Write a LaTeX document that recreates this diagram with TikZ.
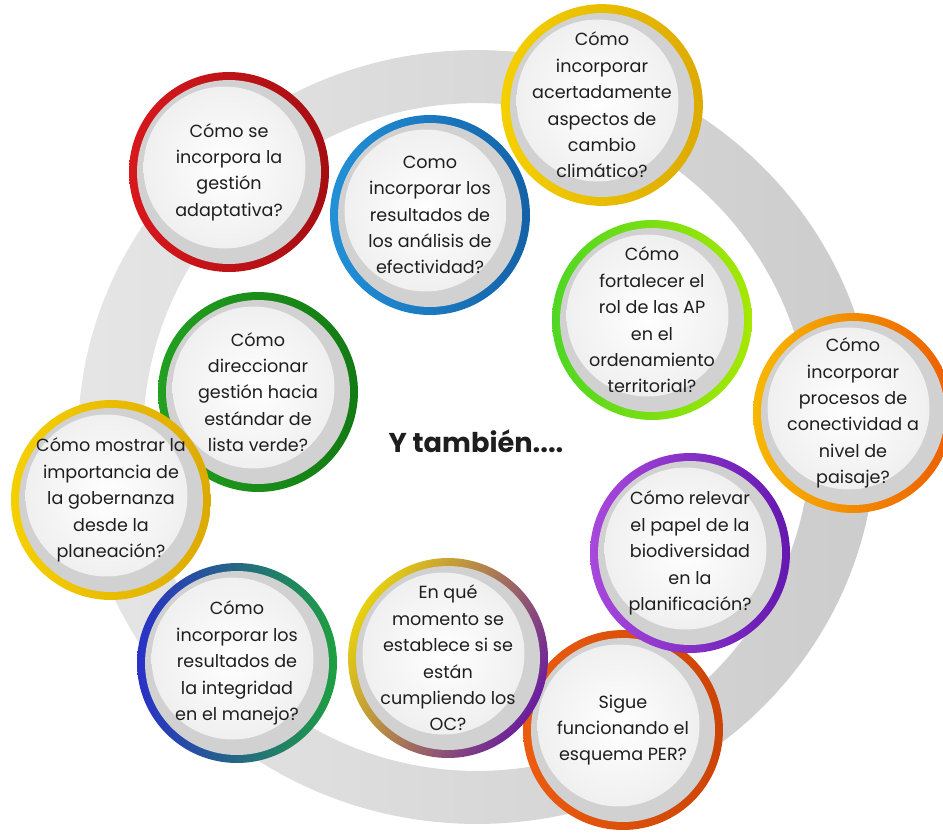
\documentclass[tikz,border=0pt]{standalone}
\usepackage{fontspec}
\setmainfont{Poppins}
\definecolor{qink}{HTML}{1E1E1E}
\definecolor{qred}{HTML}{D8181D}
\definecolor{qreddark}{HTML}{A50E12}
\definecolor{qblue}{HTML}{2290D8}
\definecolor{qbluedark}{HTML}{1462A8}
\definecolor{qyellow}{HTML}{F5D000}
\definecolor{qyellowdark}{HTML}{DDAA00}
\definecolor{qlime}{HTML}{4FD624}
\definecolor{qlimelight}{HTML}{A6E800}
\definecolor{qamber}{HTML}{F8B800}
\definecolor{qorange}{HTML}{EC5E00}
\definecolor{qviolet}{HTML}{A848DC}
\definecolor{qpurple}{HTML}{6418B0}
\definecolor{qrust}{HTML}{EC5C10}
\definecolor{qrustdark}{HTML}{CC4406}
\definecolor{qolive}{HTML}{E6D010}
\definecolor{qplum}{HTML}{6A1E9E}
\definecolor{qindigo}{HTML}{2A30C8}
\definecolor{qteal}{HTML}{1EA040}
\definecolor{qgreen}{HTML}{22A020}
\definecolor{qgreendark}{HTML}{137A13}
\newcommand{\qtext}{\fontsize{10}{15}\selectfont}
\newcommand{\qtitle}{\fontsize{15.5}{18}\selectfont\bfseries}

\begin{document}
\begin{tikzpicture}[
  x=0.02cm, y=-0.02cm,
  bubble/.style 2 args={circle, minimum size=4cm, inner sep=0pt, align=center, font=\qtext, text=qink,
    left color=#1, right color=#2,
    path picture={
      \fill[gray!36] (path picture bounding box.center) circle (1.84cm);
      \shade[inner color=white, outer color=gray!12] ([shift={(-0.09cm,0.09cm)}]path picture bounding box.center) circle (1.62cm);
    }},
  title/.style={font=\qtitle, text=qink},
]
  \clip (0,0) rectangle (943,833);

  % Grey ring behind the questions
  \shade[even odd rule, left color=gray!20, right color=gray!40]
    (477,437) ellipse [x radius=7.98cm, y radius=7.74cm]
    (477,437) circle [radius=6.68cm];

  % Upper half
  \node[bubble={qred}{qreddark}] (adapt) at (229,172) {Cómo se\\incorpora la\\gestión\\adaptativa?};
  \node[bubble={qblue}{qbluedark}] (efect) at (430,215) {Como\\incorporar los\\resultados de\\los análisis de\\efectividad?};
  \node[bubble={qyellow}{qyellowdark}] (clima) at (602,105) {Cómo\\incorporar\\acertadamente\\aspectos de\\cambio\\climático?};
  \node[bubble={qlime}{qlimelight}] (territ) at (652,320) {Cómo\\fortalecer el\\rol de las AP\\en el\\ordenamiento\\territorial?};
  \node[bubble={qamber}{qorange}] (paisaje) at (853,413) {Cómo\\incorporar\\procesos de\\conectividad a\\nivel de\\paisaje?};

  % Lower half
  \node[bubble={qrust}{qrustdark}] (per) at (623,730) {Sigue\\funcionando el\\esquema PER?};
  \node[bubble={qviolet}{qpurple}] (biodiv) at (690,553) {Cómo relevar\\el papel de la\\biodiversidad\\en la\\planificación?};
  \node[bubble={qolive}{qplum}, shading angle=60] (oc) at (448,658) {En qué\\momento se\\establece si se\\están\\cumpliendo los\\OC?};
  \node[bubble={qindigo}{qteal}] (integ) at (237,663) {Cómo\\incorporar los\\resultados de\\la integridad\\en el manejo?};
  \node[bubble={qgreen}{qgreendark}] (verde) at (258,392) {Cómo\\direccionar\\gestión hacia\\estándar de\\lista verde?};
  \node[bubble={qyellow}{qyellowdark}] (gober) at (111,500) {Cómo mostrar la\\importancia de\\la gobernanza\\desde la\\planeación?};

  % Centre
  \node[title] (tambien) at (476,441) {Y también....};
\end{tikzpicture}
\end{document}
